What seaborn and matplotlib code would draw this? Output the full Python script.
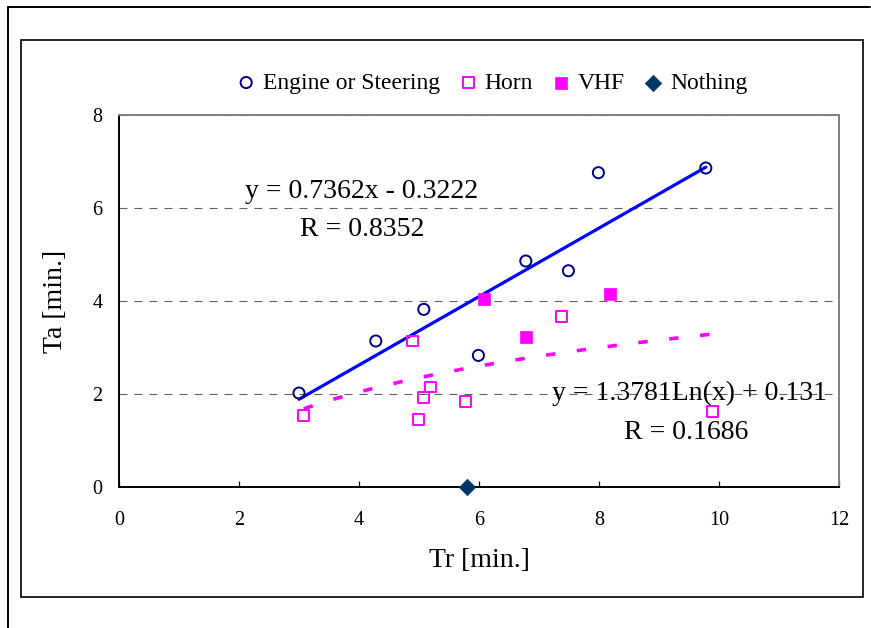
import numpy as np
import pandas as pd
import matplotlib
matplotlib.use("Agg")
import matplotlib.pyplot as plt
from matplotlib.lines import Line2D
from matplotlib.patches import Rectangle
import seaborn as sns

# ---------------- data ----------------
engine_tr = [3.0, 4.28, 5.08, 5.99, 6.78, 7.49, 7.99, 9.78]
engine_ta = [2.02, 3.14, 3.82, 2.83, 4.86, 4.65, 6.76, 6.86]
horn_tr = [3.08, 4.89, 4.99, 5.08, 5.19, 5.78, 7.38, 9.89]
horn_ta = [1.54, 3.14, 1.46, 1.93, 2.15, 1.84, 3.66, 1.62]
vhf_tr = [6.09, 6.78, 8.18]
vhf_ta = [4.04, 3.23, 4.14]
nothing_tr = [5.8]
nothing_ta = [0.0]

lin_coef = [0.7362, -0.3222]      # slope, intercept
log_coef = [1.3781, 0.131]        # a*ln(x) + b
lin_text = ["y = 0.7362x - 0.3222", "R = 0.8352"]
log_text = ["y = 1.3781Ln(x) + 0.131", "R = 0.1686"]

x_ticks = [0, 2, 4, 6, 8, 10, 12]
y_ticks = [0, 2, 4, 6, 8]
labels = ["Engine or Steering", "Horn", "VHF", "Nothing"]

# ---------------- style ----------------
sns.set_style("white")
plt.rcParams["font.family"] = ["Liberation Serif", "DejaVu Serif"]
plt.rcParams["text.color"] = "black"
plt.rcParams["axes.labelcolor"] = "black"
plt.rcParams["xtick.color"] = "black"
plt.rcParams["ytick.color"] = "black"

W, H = 871, 628
fig = plt.figure(figsize=(W / 100, H / 100), dpi=100)
ax = fig.add_axes([119 / W, 1 - 487 / H, 720 / W, 372 / H])

NAVY = "#000080"
MAG = "#FF00FF"
DIAM = "#003366"

# gridlines
ax.set_axisbelow(True)
ax.yaxis.grid(True, color="#606060", linewidth=0.8, linestyle=(0, (7.2, 6.3)))
ax.xaxis.grid(False)

# trendlines
eng_x = np.array([min(engine_tr), max(engine_tr)])
sns.lineplot(x=eng_x, y=lin_coef[0] * eng_x + lin_coef[1], ax=ax,
             color="#0000FF", linewidth=2.3, zorder=3)

hv_tr = horn_tr + vhf_tr
log_x = np.linspace(min(hv_tr), max(hv_tr), 300)
sns.lineplot(x=log_x, y=log_coef[0] * np.log(log_x) + log_coef[1], ax=ax,
             color=MAG, linewidth=2.6, linestyle=(0, (2.6, 6.0)), zorder=3)

# scatter groups
sns.scatterplot(x=engine_tr, y=engine_ta, ax=ax, marker="o", s=64,
                color=NAVY, facecolor="none", edgecolor=NAVY, linewidth=1.4,
                label=labels[0], zorder=4)
sns.scatterplot(x=horn_tr, y=horn_ta, ax=ax, marker="s", s=62,
                color=MAG, facecolor="none", edgecolor=MAG, linewidth=1.4,
                label=labels[1], zorder=4)
sns.scatterplot(x=vhf_tr, y=vhf_ta, ax=ax, marker="s", s=80,
                color=MAG, facecolor=MAG, edgecolor=MAG, linewidth=0.5,
                label=labels[2], zorder=4)
sns.scatterplot(x=nothing_tr, y=nothing_ta, ax=ax, marker="D", s=70,
                color=DIAM, facecolor=DIAM, edgecolor=DIAM, linewidth=0.5,
                label=labels[3], zorder=5, clip_on=False)

# axes
ax.set_xlim(0, 12)
ax.set_ylim(0, 8)
ax.set_xticks(x_ticks)
ax.set_yticks(y_ticks)
ax.tick_params(axis="x", direction="in", length=4.5, width=0.9, color="black",
               labelcolor="black", labelsize=14.5, pad=17, bottom=True)
ax.tick_params(axis="y", length=0, labelsize=14.5, pad=12, left=True,
               labelcolor="black")

for side in ["left", "bottom"]:
    ax.spines[side].set_color("black")
    ax.spines[side].set_linewidth(1.4)
for side in ["top", "right"]:
    ax.spines[side].set_color("#808080")
    ax.spines[side].set_linewidth(1.4)
    ax.spines[side].set_visible(True)

ax.set_xlabel("Tr [min.]", fontsize=20, color="black")
ax.set_ylabel("Ta [min.]", fontsize=20, color="black")
ax.xaxis.set_label_coords(0.5, -0.165)
ax.yaxis.set_label_coords(-0.071, 0.5)

# equation texts
ax.text(4.05, 6.36, lin_text[0], fontsize=20, ha="center", va="center",
        color="black", zorder=6)
ax.text(4.05, 5.53, lin_text[1], fontsize=20, ha="center", va="center",
        color="black", zorder=6)
ax.text(9.50, 2.02, log_text[0], fontsize=20, ha="center", va="center",
        color="black", zorder=2)
ax.text(9.46, 1.18, log_text[1], fontsize=20, ha="center", va="center",
        color="black", zorder=6)

# legend
handles, labs = ax.get_legend_handles_labels()
if ax.get_legend():
    ax.get_legend().remove()
leg = fig.legend(handles, labs, loc="center", bbox_to_anchor=(492 / W, 1 - 83 / H),
                 ncol=4, frameon=False, fontsize=17, handlelength=0.8,
                 handletextpad=0.3, columnspacing=0.8, borderaxespad=0)
for t in leg.get_texts():
    t.set_color("black")

# frames
fig.add_artist(Rectangle((21 / W, 1 - 597 / H), (863 - 21) / W, (597 - 40) / H,
                         transform=fig.transFigure, fill=False,
                         edgecolor="black", linewidth=1.2))
fig.add_artist(Line2D([8 / W, 870 / W], [1 - 7 / H, 1 - 7 / H],
                      transform=fig.transFigure, color="black", linewidth=1.4))
fig.add_artist(Line2D([8 / W, 8 / W], [1 - 7 / H, 0],
                      transform=fig.transFigure, color="black", linewidth=1.4))

fig.savefig("out.png", dpi=100)
